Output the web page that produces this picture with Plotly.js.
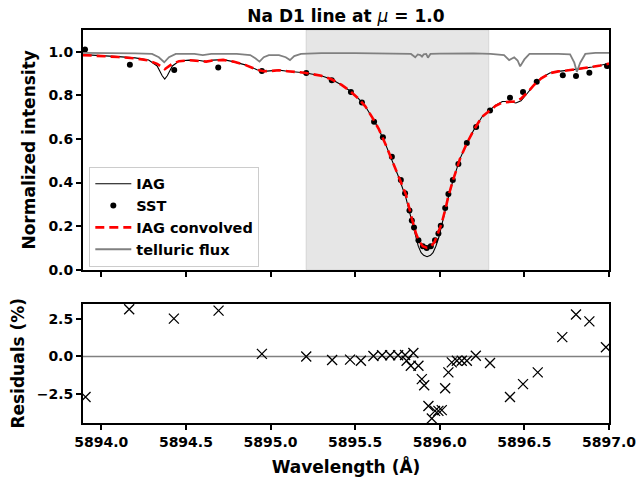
<!DOCTYPE html>
<html>
<head>
<meta charset="utf-8">
<script src="https://cdn.plot.ly/plotly-3.0.1.min.js"></script>
<style>html,body{margin:0;padding:0;background:#fff;}#chart{width:639px;height:479px;}</style>
</head>
<body>
<div id="chart"></div>
<script>
// IAG atlas (black thin line)
const iagWave = [5893.89,5894.0,5894.1,5894.2,5894.28,5894.33,5894.36,5894.375,5894.39,5894.42,5894.46,5894.52,5894.58,5894.62,5894.66,5894.72,5894.78,5894.85,5894.92,5894.96,5895.0,5895.05,5895.1,5895.2,5895.3,5895.36,5895.42,5895.47,5895.52,5895.56,5895.6,5895.64,5895.68,5895.72,5895.76,5895.8,5895.835,5895.855,5895.873,5895.89,5895.905,5895.925,5895.945,5895.96,5895.977,5895.995,5896.01,5896.035,5896.05,5896.08,5896.12,5896.16,5896.2,5896.25,5896.3,5896.33,5896.37,5896.41,5896.45,5896.48,5896.52,5896.56,5896.6,5896.65,5896.7,5896.75,5896.8,5896.85,5896.9,5896.95,5897.0];
const iagFlux = [0.987,0.984,0.978,0.972,0.962,0.935,0.89,0.875,0.89,0.935,0.958,0.962,0.96,0.955,0.962,0.964,0.955,0.94,0.918,0.91,0.912,0.916,0.911,0.904,0.89,0.874,0.848,0.82,0.785,0.75,0.7,0.645,0.575,0.5,0.42,0.33,0.225,0.153,0.108,0.078,0.066,0.06,0.066,0.078,0.108,0.15,0.2,0.283,0.33,0.415,0.51,0.58,0.64,0.702,0.737,0.755,0.772,0.772,0.765,0.775,0.812,0.85,0.88,0.903,0.91,0.914,0.919,0.924,0.93,0.937,0.946];
// IAG convolved (red dashed)
const convWave = [5893.89,5894.0,5894.1,5894.2,5894.28,5894.33,5894.375,5894.42,5894.46,5894.52,5894.58,5894.62,5894.66,5894.72,5894.78,5894.85,5894.92,5894.96,5895.0,5895.05,5895.1,5895.2,5895.3,5895.36,5895.42,5895.47,5895.52,5895.56,5895.6,5895.64,5895.68,5895.72,5895.76,5895.8,5895.835,5895.86,5895.88,5895.9,5895.925,5895.95,5895.97,5895.99,5896.01,5896.035,5896.05,5896.08,5896.12,5896.16,5896.2,5896.25,5896.3,5896.33,5896.37,5896.41,5896.45,5896.48,5896.52,5896.56,5896.6,5896.65,5896.7,5896.75,5896.8,5896.85,5896.9,5896.95,5897.0];
const convFlux = [0.985,0.982,0.976,0.97,0.96,0.945,0.92,0.945,0.957,0.961,0.959,0.955,0.96,0.963,0.955,0.94,0.918,0.911,0.912,0.915,0.911,0.904,0.89,0.874,0.848,0.82,0.785,0.75,0.7,0.645,0.575,0.5,0.42,0.345,0.235,0.165,0.128,0.108,0.1,0.108,0.128,0.165,0.21,0.283,0.335,0.415,0.51,0.58,0.64,0.702,0.735,0.752,0.768,0.77,0.772,0.785,0.815,0.85,0.878,0.902,0.91,0.914,0.919,0.924,0.93,0.937,0.946];
// Telluric flux (grey)
const tellWave = [5893.89,5894.0,5894.1,5894.2,5894.3,5894.34,5894.372,5894.4,5894.44,5894.55,5894.6,5894.65,5894.8,5894.88,5894.91,5894.935,5894.96,5894.99,5895.05,5895.09,5895.115,5895.14,5895.18,5895.3,5895.5,5895.7,5895.83,5895.855,5895.87,5895.885,5895.895,5895.905,5895.92,5895.93,5895.945,5896.0,5896.2,5896.3,5896.38,5896.41,5896.44,5896.46,5896.475,5896.5,5896.53,5896.7,5896.77,5896.795,5896.81,5896.83,5896.86,5896.92,5897.0];
const tellFlux = [0.995,0.995,0.994,0.993,0.99,0.975,0.952,0.975,0.99,0.99,0.985,0.99,0.99,0.985,0.97,0.955,0.975,0.985,0.985,0.975,0.962,0.98,0.99,0.994,0.994,0.993,0.99,0.975,0.988,0.985,0.978,0.988,0.99,0.973,0.99,0.992,0.993,0.99,0.985,0.962,0.975,0.96,0.933,0.965,0.99,0.99,0.988,0.95,0.908,0.95,0.99,0.995,0.995];
// SST observations (dots)
const sstWave = [5893.904,5894.169,5894.431,5894.691,5894.949,5895.211,5895.362,5895.475,5895.540,5895.612,5895.664,5895.717,5895.770,5895.795,5895.821,5895.835,5895.848,5895.874,5895.900,5895.923,5895.947,5895.972,5895.992,5896.006,5896.032,5896.051,5896.077,5896.110,5896.160,5896.215,5896.297,5896.415,5896.492,5896.573,5896.727,5896.805,5896.884,5896.988];
const sstFlux = [1.010,0.941,0.917,0.928,0.912,0.903,0.869,0.816,0.767,0.679,0.608,0.518,0.412,0.351,0.272,0.226,0.194,0.135,0.108,0.100,0.108,0.135,0.166,0.202,0.283,0.348,0.412,0.485,0.582,0.655,0.731,0.789,0.816,0.862,0.892,0.889,0.904,0.935];
// Residuals (%)
const resWave = [5893.907,5894.165,5894.429,5894.693,5894.949,5895.211,5895.364,5895.470,5895.534,5895.608,5895.659,5895.707,5895.754,5895.795,5895.804,5895.829,5895.844,5895.874,5895.894,5895.908,5895.933,5895.953,5895.972,5895.992,5896.012,5896.032,5896.051,5896.071,5896.101,5896.130,5896.160,5896.213,5896.297,5896.415,5896.492,5896.579,5896.724,5896.805,5896.884,5896.982];
const resVal = [-2.68,3.12,2.5,3.03,0.17,0.0,-0.23,-0.21,-0.28,0.03,0.08,0.08,0.08,0.1,-0.28,-0.61,0.23,-0.61,-1.5,-1.9,-3.28,-4.1,-3.6,-3.6,-3.55,-2.1,-1.05,-0.39,-0.28,-0.28,-0.28,0.05,-0.43,-2.68,-1.83,-1.05,1.28,2.77,2.32,0.61];
const shadeRange = [5895.21, 5896.29];
const xTickVals = [5894.0,5894.5,5895.0,5895.5,5896.0,5896.5,5897.0];

const FONT = 'DejaVu Sans, sans-serif';
const traces = [
  {x: iagWave, y: iagFlux, xaxis:'x', yaxis:'y', mode:'lines', name:'IAG', line:{color:'black', width:1.1}},
  {x: sstWave, y: sstFlux, xaxis:'x', yaxis:'y', mode:'markers', name:'SST', marker:{color:'black', size:6}},
  {x: convWave, y: convFlux, xaxis:'x', yaxis:'y', mode:'lines', name:'IAG convolved', line:{color:'red', width:2.6, dash:'9px,5px'}},
  {x: tellWave, y: tellFlux, xaxis:'x', yaxis:'y', mode:'lines', name:'telluric flux', line:{color:'gray', width:1.8}},
  {x: resWave, y: resVal, xaxis:'x2', yaxis:'y2', mode:'markers', showlegend:false,
   marker:{symbol:'x-thin', size:10, color:'black', line:{color:'black', width:1.3}}}
];
const axisCommon = {showline:true, mirror:true, linecolor:'black', linewidth:2, ticks:'outside', ticklen:5, tickwidth:2, tickcolor:'black', showgrid:false, zeroline:false,
  tickfont:{family:FONT, size:14, color:'black', weight:'bold'}};
const titleFont = {family:FONT, size:17, color:'black', weight:'bold'};
const layout = {
  width:639, height:479, paper_bgcolor:'white', plot_bgcolor:'white',
  margin:{l:83, r:30, t:30, b:56},
  font:{family:FONT, color:'black'},
  title:{text:'<b>Na D1 line at </b><i>μ</i><b> = 1.0</b>', x:0.5413, xref:'container', xanchor:'center', y:0.966, yanchor:'middle', font:{family:FONT, size:17, color:'black'}},
  showlegend:true,
  legend:{x:0.012, y:0.652, xanchor:'left', yanchor:'top', bgcolor:'rgba(255,255,255,0.85)', bordercolor:'#cccccc', borderwidth:1, font:{family:FONT, size:14.5, color:'black', weight:'bold'}, tracegroupgap:0, itemwidth:36},
  xaxis: Object.assign({}, axisCommon, {domain:[0,1], anchor:'y', range:[5893.892,5897.0], tickvals:xTickVals, showticklabels:false}),
  xaxis2: Object.assign({}, axisCommon, {domain:[0,1], anchor:'y2', matches:'x', range:[5893.892,5897.0], tickvals:xTickVals, tickformat:'.1f',
    title:{text:'Wavelength (Å)', font:titleFont, standoff:12}}),
  yaxis: Object.assign({}, axisCommon, {domain:[0.39,1], anchor:'x', range:[0,1.1], tickvals:[0,0.2,0.4,0.6,0.8,1.0], tickformat:'.1f',
    title:{text:'Normalized intensity', font:titleFont, standoff:8}}),
  yaxis2: Object.assign({}, axisCommon, {domain:[0,0.304], anchor:'x2', range:[-4.4,3.5], tickvals:[-2.5,0,2.5], tickformat:'.1f',
    title:{text:'Residuals (%)', font:titleFont, standoff:8}}),
  shapes:[
    {type:'rect', xref:'x', yref:'y domain', x0:shadeRange[0], x1:shadeRange[1], y0:0, y1:1, fillcolor:'rgba(128,128,128,0.2)', line:{color:'rgba(128,128,128,0.2)', width:1}, layer:'below'},
    {type:'line', xref:'x2 domain', yref:'y2', x0:0, x1:1, y0:0, y1:0, line:{color:'gray', width:1.5}, layer:'below'}
  ]
};
Plotly.newPlot('chart', traces, layout, {displayModeBar:false, staticPlot:true});
</script>
</body>
</html>
